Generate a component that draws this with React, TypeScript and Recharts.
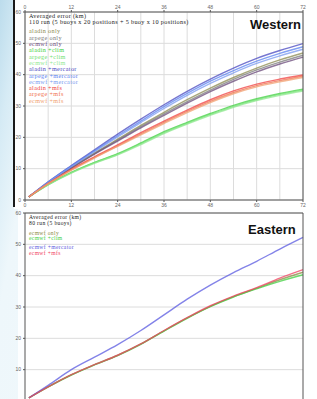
import { LineChart, Line, XAxis, YAxis, CartesianGrid } from "recharts";

// hours after release
const hours = [1, 6, 12, 18, 24, 30, 36, 42, 48, 54, 60, 66, 72];
const hourTicks = [0, 12, 24, 36, 48, 60, 72];
const gridHours = [0, 6, 12, 18, 24, 30, 36, 42, 48, 54, 60, 66, 72];
const errorTicks = [0, 10, 20, 30, 40, 50, 60];
const eastErrorTicks = [10, 20, 30, 40, 50, 60]; // 0 falls below the visible area

// Western basin, averaged error (km)
const westAladinOnly = [1, 5.5, 10.4, 15, 19.4, 23.8, 28, 32, 35.7, 39.1, 42.1, 44.7, 46.9];
const westArpegeOnly = [1, 5.5, 10.3, 14.8, 19.1, 23.4, 27.5, 31.4, 35.1, 38.5, 41.5, 44, 46.2];
const westEcmwfOnly = [1, 5.4, 10.1, 14.6, 18.8, 23, 27, 30.9, 34.6, 37.9, 40.9, 43.4, 45.6];
const westAladinClim = [1, 4.9, 8.8, 12, 14.8, 18.2, 21.8, 24.8, 27.6, 30.2, 32.3, 34, 35.4];
const westArpegeClim = [1, 4.9, 8.7, 11.9, 14.6, 18, 21.5, 24.5, 27.3, 29.9, 32, 33.7, 35.1];
const westEcmwfClim = [1, 4.8, 8.6, 11.7, 14.4, 17.7, 21.2, 24.2, 27, 29.6, 31.7, 33.4, 34.8];
const westAladinMercator = [1, 5.8, 11, 16, 21, 25.8, 30.4, 34.7, 38.6, 42.1, 45.2, 47.7, 49.9];
const westArpegeMercator = [1, 5.7, 10.8, 15.7, 20.5, 25.2, 29.8, 34, 37.9, 41.3, 44.3, 46.8, 48.9];
const westEcmwfMercator = [1, 5.6, 10.6, 15.4, 20.1, 24.7, 29.2, 33.4, 37.2, 40.6, 43.6, 46, 48.1];
const westAladinMfs = [1, 5.3, 9.8, 13.8, 17.6, 21.5, 25.2, 28.7, 32, 34.8, 37, 38.6, 39.9];
const westArpegeMfs = [1, 5.2, 9.6, 13.6, 17.3, 21.1, 24.8, 28.3, 31.5, 34.3, 36.5, 38.1, 39.5];
const westEcmwfMfs = [1, 5.2, 9.5, 13.4, 17.1, 20.8, 24.4, 27.9, 31.1, 33.9, 36.1, 37.7, 39.1];

// Eastern basin, averaged error (km)
const eastEcmwfOnly = [1, 4.5, 8.3, 11.6, 14.6, 18.2, 22.4, 26.5, 30.2, 33.3, 36, 38.7, 41.1];
const eastEcmwfClim = [1, 4.5, 8.3, 11.5, 14.5, 18.1, 22.3, 26.4, 30.1, 33.2, 35.8, 38.2, 40.3];
const eastEcmwfMercator = [1, 5, 10, 14, 18, 22.5, 27.5, 32.5, 37, 41, 44.6, 48.5, 52.2];
const eastEcmwfMfs = [1, 4.5, 8.4, 11.6, 14.6, 18.2, 22.5, 26.6, 30.4, 33.5, 36.2, 39.2, 41.9];

type Series = { key: string; name: string; color: string; values: number[] };

const westSeries: Series[] = [
  { key: "w0", name: "aladin only", color: "#8a8a50", values: westAladinOnly },
  { key: "w1", name: "arpege only", color: "#7a7a7a", values: westArpegeOnly },
  { key: "w2", name: "ecmwf only", color: "#6a4a7a", values: westEcmwfOnly },
  { key: "w3", name: "aladin +clim", color: "#40d040", values: westAladinClim },
  { key: "w4", name: "arpege +clim", color: "#70e070", values: westArpegeClim },
  { key: "w5", name: "ecmwf +clim", color: "#90e890", values: westEcmwfClim },
  { key: "w6", name: "aladin +mercator", color: "#4848c0", values: westAladinMercator },
  { key: "w7", name: "arpege +mercator", color: "#5a80f0", values: westArpegeMercator },
  { key: "w8", name: "ecmwf +mercator", color: "#7a9af0", values: westEcmwfMercator },
  { key: "w9", name: "aladin +mfs", color: "#f04040", values: westAladinMfs },
  { key: "w10", name: "arpege +mfs", color: "#f07050", values: westArpegeMfs },
  { key: "w11", name: "ecmwf +mfs", color: "#f0a070", values: westEcmwfMfs },
];

const eastSeries: Series[] = [
  { key: "e0", name: "ecmwf only", color: "#8a8a40", values: eastEcmwfOnly },
  { key: "e1", name: "ecmwf +clim", color: "#40d040", values: eastEcmwfClim },
  { key: "e2", name: "ecmwf +mercator", color: "#5a5ae0", values: eastEcmwfMercator },
  { key: "e3", name: "ecmwf +mfs", color: "#f04060", values: eastEcmwfMfs },
];

const buildRows = (series: Series[]) =>
  hours.map((h, i) => {
    const row: Record<string, number> = { hour: h };
    series.forEach((s) => (row[s.key] = s.values[i]));
    return row;
  });

const tickStyle = { fontSize: 5, fill: "#666", fontFamily: "Liberation Sans, sans-serif" };
const axisColor = "#555";
const serif = '"Liberation Serif", "DejaVu Serif", serif';
const bold = '"Liberation Sans", Arial, sans-serif';

function Panel({
  series,
  height,
  topLabels,
  topGap,
  bottomLabels,
  yTicks,
}: {
  series: Series[];
  height: number;
  topLabels: boolean;
  topGap: number;
  bottomLabels: boolean;
  yTicks: number[];
}) {
  const data = buildRows(series);
  return (
    <LineChart width={317} height={height} data={data} margin={{ top: 0, right: 0, bottom: 0, left: 0 }}>
      <CartesianGrid
        xAxisId="bottom"
        yAxisId="left"
        stroke="#dcdcdc"
        strokeWidth={1}
        verticalValues={gridHours}
        horizontalValues={errorTicks}
      />
      <XAxis
        xAxisId="top"
        orientation="top"
        dataKey="hour"
        type="number"
        domain={[0, 72]}
        ticks={hourTicks}
        height={topGap}
        tick={topLabels ? tickStyle : false}
        tickSize={2}
        tickMargin={1}
        stroke={axisColor}
      />
      <XAxis
        xAxisId="bottom"
        dataKey="hour"
        type="number"
        domain={[0, 72]}
        ticks={hourTicks}
        height={10}
        tick={bottomLabels ? tickStyle : false}
        tickSize={2}
        tickMargin={1}
        stroke={axisColor}
      />
      <YAxis yAxisId="left" domain={[0, 60]} ticks={yTicks} width={25} tick={tickStyle} tickSize={2} tickMargin={2} stroke={axisColor} />
      <YAxis yAxisId="right" orientation="right" domain={[0, 60]} ticks={yTicks} width={14} tick={tickStyle} tickSize={2} tickMargin={2} stroke={axisColor} />
      {series.map((s) => (
        <Line
          key={s.key}
          xAxisId="bottom"
          yAxisId="left"
          dataKey={s.key}
          name={s.name}
          type="monotone"
          stroke={s.color}
          strokeOpacity={0.75}
          strokeWidth={1.4}
          dot={false}
          isAnimationActive={false}
        />
      ))}
    </LineChart>
  );
}

function Legend({
  header,
  headerYs,
  series,
  ys,
  size,
}: {
  header: string[];
  headerYs: number[];
  series: Series[];
  ys: number[];
  size: number;
}) {
  const line = (y: number) => ({
    position: "absolute" as const,
    left: 29,
    top: y - size / 2,
    fontFamily: serif,
    fontSize: size,
    letterSpacing: "0.35px",
    lineHeight: `${size}px`,
    whiteSpace: "nowrap" as const,
  });
  return (
    <>
      {header.map((t, i) => (
        <div key={t} style={{ ...line(headerYs[i]), color: "#222" }}>{t}</div>
      ))}
      {series.map((s, i) => (
        <div key={s.key} style={{ ...line(ys[i]), color: s.color }}>{s.name}</div>
      ))}
    </>
  );
}

export default function App() {
  const westYs = westSeries.map((_, i) => 31.5 + i * 6.3);
  return (
    <div
      style={{
        position: "absolute",
        left: 0,
        top: 0,
        width: 317,
        height: 399,
        overflow: "hidden",
        background: "linear-gradient(100deg, #bcdcec 0%, #d6ebf5 6%, #eef7fb 14%, #f7fbfd 100%)",
      }}
    >
      <div style={{ position: "absolute", left: 14, top: 0, width: 303, height: 209, background: "#fff" }} />
      <div style={{ position: "absolute", left: 13, top: 0, width: 1.5, height: 207, background: "#1a1a1a" }} />
      <div style={{ position: "absolute", left: 18, top: 209, width: 299, height: 190, background: "rgba(255,255,255,0.85)" }} />
      <div style={{ position: "absolute", left: 25, top: 213, width: 278, height: 186, background: "#fff" }} />
      <div style={{ position: "absolute", left: 0, top: 0 }}>
        <Panel series={westSeries} height={210} topLabels={true} topGap={12} bottomLabels={true} yTicks={errorTicks} />
      </div>
      <div style={{ position: "absolute", left: 0, top: 210 }}>
        <Panel series={eastSeries} height={201} topLabels={false} topGap={3} bottomLabels={false} yTicks={eastErrorTicks} />
      </div>
      <Legend
        header={["Averaged error (km)", "110 run (5 buoys x 20 positions + 5 buoy x 10 positions)"]}
        headerYs={[16, 21.8]}
        series={westSeries}
        ys={westYs}
        size={6.2}
      />
      <Legend
        header={["Averaged error (km)", "80 run (5 buoys)"]}
        headerYs={[217.5, 223.3]}
        series={eastSeries}
        ys={[233.3, 239, 248, 253.8]}
        size={5.6}
      />
      <div style={{ position: "absolute", left: 250, top: 18, fontFamily: bold, fontWeight: 700, fontSize: 13, lineHeight: "13px", color: "#111" }}>
        Western
      </div>
      <div style={{ position: "absolute", left: 248, top: 222.5, fontFamily: bold, fontWeight: 700, fontSize: 13, lineHeight: "13px", color: "#111" }}>
        Eastern
      </div>
    </div>
  );
}
